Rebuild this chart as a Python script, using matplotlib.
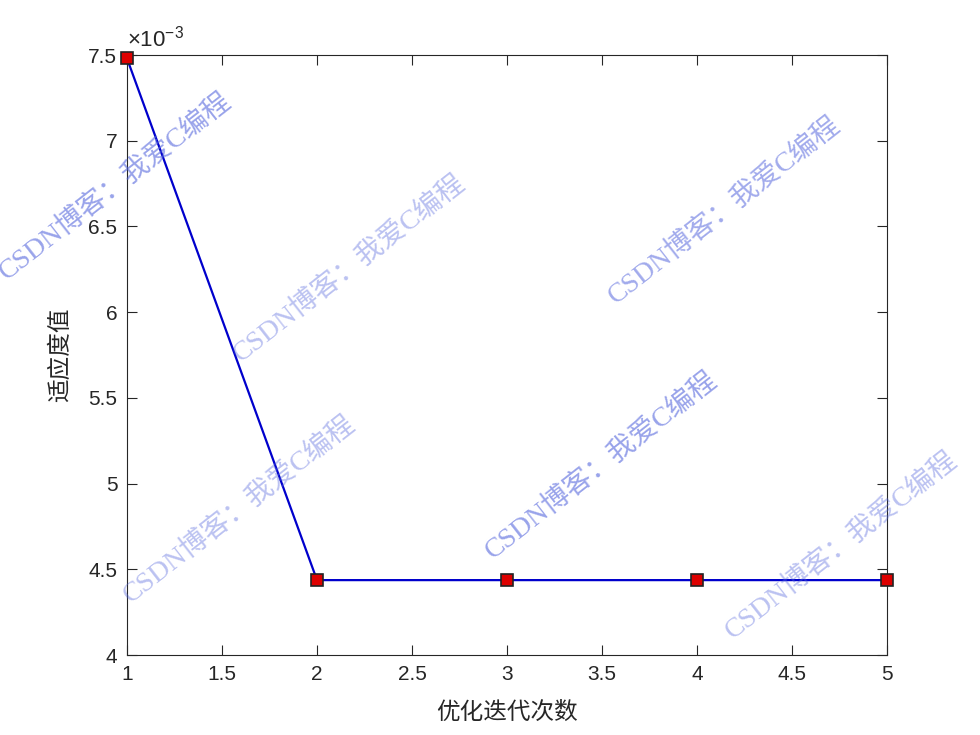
import numpy as np
import matplotlib
matplotlib.use('Agg')
import matplotlib.pyplot as plt
from matplotlib.ticker import FuncFormatter

plt.rcParams['font.family'] = ['Liberation Sans', 'Noto Sans CJK SC', 'DejaVu Sans']
plt.rcParams['mathtext.fontset'] = 'custom'
plt.rcParams['mathtext.rm'] = 'Liberation Sans'

# 数据
iters = [1, 2, 3, 4, 5]
fitness = [7.48e-3, 4.437e-3, 4.437e-3, 4.437e-3, 4.437e-3]
x_ticks = [1, 1.5, 2, 2.5, 3, 3.5, 4, 4.5, 5]
y_ticks = [4e-3, 4.5e-3, 5e-3, 5.5e-3, 6e-3, 6.5e-3, 7e-3, 7.5e-3]

# 水印 (位置为图坐标比例)
wm_text = 'CSDN博客：我爱C编程'
wm_pos = [(0.118, 0.746), (0.357, 0.635), (0.739, 0.714),
          (0.244, 0.306), (0.614, 0.367), (0.859, 0.258)]
wm_alpha = [0.6, 0.4, 0.55, 0.4, 0.6, 0.4]

fig = plt.figure(figsize=(9.8, 7.35), dpi=100)
ax = fig.add_axes([0.1296, 0.1088, 0.7755, 0.8163])

ax.plot(iters, fitness, color='#0000CC', linewidth=1.6, marker='s',
        markersize=8, markerfacecolor='#DD0000', markeredgecolor='#222222',
        markeredgewidth=1.2, clip_on=False, zorder=5)

ax.set_xlim(1, 5)
ax.set_ylim(4e-3, 7.5e-3)
ax.set_xticks(x_ticks)
ax.set_yticks(y_ticks)
ax.xaxis.set_major_formatter(FuncFormatter(lambda v, p: '%g' % v))
ax.yaxis.set_major_formatter(FuncFormatter(lambda v, p: '%g' % round(v * 1e3, 6)))
ax.text(0.0, 1.006, r'$\times10^{-3}$', transform=ax.transAxes, fontsize=16,
        color='#262626', ha='left', va='bottom')

ax.tick_params(direction='in', top=True, right=True, labelsize=15,
               colors='#262626', length=7, width=0.8, pad=7)
for s in ax.spines.values():
    s.set_color('#262626')
    s.set_linewidth(0.8)

ax.set_xlabel('优化迭代次数', fontsize=17, color='#262626', labelpad=13)
ax.set_ylabel('适应度值', fontsize=17, color='#262626', labelpad=12)

for (px, py), al in zip(wm_pos, wm_alpha):
    fig.text(px, py, wm_text, fontsize=20, color='#5566DD', alpha=al,
             rotation=38, ha='center', va='center',
             family=['Liberation Serif', 'Noto Sans CJK SC'])

fig.savefig('out.png', dpi=100)
